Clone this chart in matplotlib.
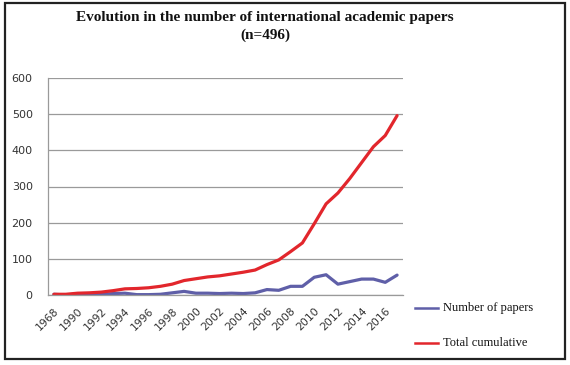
import matplotlib
matplotlib.use("Agg")
import matplotlib.pyplot as plt
from matplotlib.patches import Rectangle
from matplotlib.lines import Line2D

years = ["1968", "1989"] + [str(y) for y in range(1990, 2018)]
papers = [2, 0, 3, 1, 2, 4, 5, 1, 1, 2, 6, 10, 5, 5, 4, 5, 4, 6, 15, 13,
          24, 24, 49, 56, 30, 37, 44, 44, 35, 55]
cumulative = [2, 2, 5, 6, 8, 12, 17, 18, 20, 24, 30, 40, 45, 50, 53, 58, 63, 69, 84, 97,
              120, 144, 197, 252, 282, 322, 366, 410, 441, 496]
yticks = [0, 100, 200, 300, 400, 500, 600]
title = "Evolution in the number of international academic papers\n(n=496)"
labels = ["Number of papers", "Total cumulative"]

W, H = 570, 365
fig = plt.figure(figsize=(W / 100, H / 100), dpi=100)
ax = fig.add_axes([48 / W, 1 - 295 / H, (403 - 48) / W, (295 - 78) / H])

blue = "#5F5FA8"
red = "#E2262C"
x = list(range(len(years)))
ax.plot(x, papers, color=blue, lw=2.3, solid_capstyle="round", solid_joinstyle="round")
ax.plot(x, cumulative, color=red, lw=2.3, solid_capstyle="round", solid_joinstyle="round")

ax.set_xlim(-0.5, len(years) - 0.5)
ax.set_ylim(0, 600)
ax.set_yticks(yticks)
ax.set_yticklabels([str(v) for v in yticks], fontsize=8, color="#333333")
ax.set_xticks(x[::2])
ax.set_xticklabels(years[::2], rotation=45, ha="right", va="top",
                   rotation_mode="anchor", fontsize=7.8, color="#333333")
ax.tick_params(axis="both", length=0)
ax.tick_params(axis="y", pad=11)
ax.tick_params(axis="x", pad=8)
ax.yaxis.grid(True, color="#9a9a9a", lw=0.9)
ax.set_axisbelow(True)
for s in ["top", "right"]:
    ax.spines[s].set_visible(False)
ax.spines["left"].set_color("#9a9a9a")
ax.spines["bottom"].set_color("#9a9a9a")
ax.spines["left"].set_linewidth(0.9)
ax.spines["bottom"].set_linewidth(0.9)

fig.text(265 / W, 1 - 26.5 / H, title, ha="center", va="center",
         fontsize=11, fontweight="bold", family="Liberation Serif",
         linespacing=1.4, color="#111111")

# legend
for i, (lab, col) in enumerate(zip(labels, [blue, red])):
    yy = 1 - (308 + 35 * i) / H
    fig.add_artist(Line2D([415 / W, 438 / W], [yy, yy], color=col, lw=1.8,
                          transform=fig.transFigure))
    fig.text(443 / W, yy, lab, ha="left", va="center", fontsize=9,
             family="Liberation Serif", color="#111111")

fig.add_artist(Rectangle((5 / W, 1 - 359 / H), 560 / W, 356 / H, fill=False,
                         edgecolor="#222222", lw=1.6, transform=fig.transFigure))

fig.savefig("out.png", dpi=100)
